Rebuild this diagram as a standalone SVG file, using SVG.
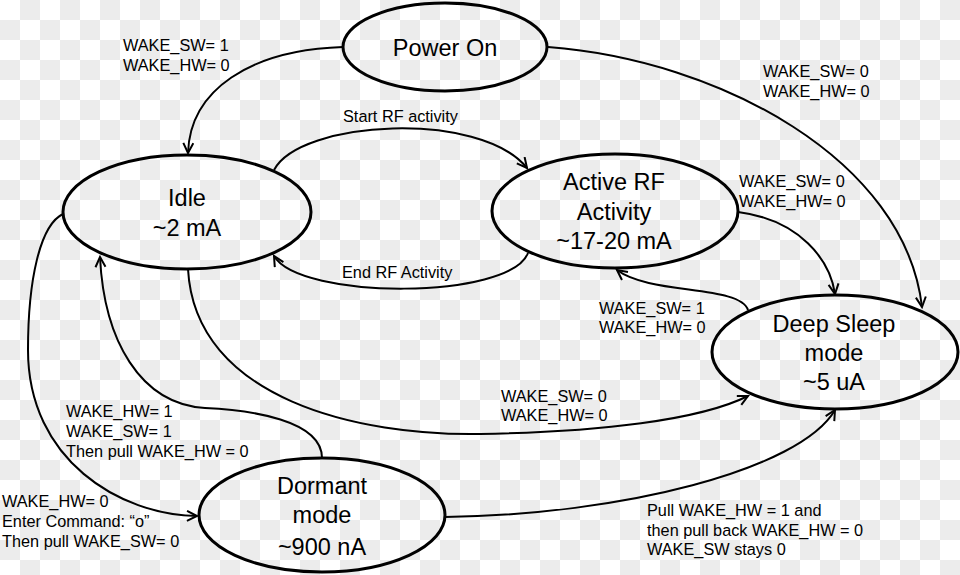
<svg xmlns="http://www.w3.org/2000/svg" width="960" height="575" viewBox="0 0 960 575">
<defs>
<pattern id="chk" width="40" height="40" patternUnits="userSpaceOnUse">
<rect width="40" height="40" fill="#ffffff"/>
<rect x="20" y="0" width="20" height="20" fill="#ececec"/>
<rect x="0" y="20" width="20" height="20" fill="#ececec"/>
</pattern>
<marker id="arr" markerWidth="14" markerHeight="14" refX="11" refY="6" orient="auto" markerUnits="userSpaceOnUse">
<path d="M1,1 L11,6 L1,11" fill="none" stroke="#000" stroke-width="2" stroke-linejoin="miter"/>
</marker>
<style>
.node ellipse{fill:none;stroke:#000;stroke-width:3}
.nt{font-family:"Liberation Sans",Arial,sans-serif;font-size:23.5px;fill:#000;text-anchor:middle}
.lb{font-family:"Liberation Sans",Arial,sans-serif;font-size:16.3px;fill:#000}
.edge{fill:none;stroke:#000;stroke-width:2;marker-end:url(#arr)}
</style>
</defs>
<rect width="960" height="575" fill="url(#chk)"/>
<g id="connectors">
<path class="edge" d="M343,47 C250,50 190,90 188,153"/>
<path class="edge" d="M548,47 C720,60 905,160 922,307"/>
<path class="edge" d="M274,170 C300,120 480,110 527,168"/>
<path class="edge" d="M528,253 C510,300 300,300 274,256"/>
<path class="edge" d="M738,212 C800,220 830,260 835,294"/>
<path class="edge" d="M748,310 C740,285 650,295 617,270"/>
<path class="edge" d="M188,269 C195,400 360,436 480,434 C600,432 700,420 748,396"/>
<path class="edge" d="M322,458 C322,420 250,410 205,408 C140,404 104,340 100,257"/>
<path class="edge" d="M63,214 C40,225 28,280 28,350 C28,460 120,515 197,516"/>
<path class="edge" d="M445,517 C620,515 800,470 835,410"/>
</g>
<g id="labels">
<text class="lb" x="123" y="51">WAKE_SW= 1</text>
<text class="lb" x="123" y="71">WAKE_HW= 0</text>
<text class="lb" x="343" y="122">Start RF activity</text>
<text class="lb" x="342" y="278">End RF Activity</text>
<text class="lb" x="763" y="77">WAKE_SW= 0</text>
<text class="lb" x="763" y="97">WAKE_HW= 0</text>
<text class="lb" x="739" y="187">WAKE_SW= 0</text>
<text class="lb" x="739" y="207">WAKE_HW= 0</text>
<text class="lb" x="599" y="314">WAKE_SW= 1</text>
<text class="lb" x="599" y="333">WAKE_HW= 0</text>
<text class="lb" x="501" y="402">WAKE_SW= 0</text>
<text class="lb" x="501" y="421">WAKE_HW= 0</text>
<text class="lb" x="66" y="417">WAKE_HW= 1</text>
<text class="lb" x="66" y="437">WAKE_SW= 1</text>
<text class="lb" x="66" y="457">Then pull WAKE_HW = 0</text>
<text class="lb" x="2" y="507">WAKE_HW= 0</text>
<text class="lb" x="2" y="527">Enter Command: “o”</text>
<text class="lb" x="2" y="547">Then pull WAKE_SW= 0</text>
<text class="lb" x="647" y="516">Pull WAKE_HW = 1 and</text>
<text class="lb" x="647" y="536">then pull back WAKE_HW = 0</text>
<text class="lb" x="647" y="555">WAKE_SW stays 0</text>
</g>
<g id="power-on" class="node">
<ellipse cx="445" cy="47" rx="102" ry="44"/>
<text class="nt" x="445" y="56">Power On</text>
</g>
<g id="idle" class="node">
<ellipse cx="187" cy="212" rx="124" ry="57"/>
<text class="nt" x="187" y="206">Idle</text>
<text class="nt" x="187" y="236">~2 mA</text>
</g>
<g id="active-rf" class="node">
<ellipse cx="615" cy="211" rx="123" ry="57"/>
<text class="nt" x="614" y="190">Active RF</text>
<text class="nt" x="614" y="220">Activity</text>
<text class="nt" x="614" y="249">~17-20 mA</text>
</g>
<g id="deep-sleep" class="node">
<ellipse cx="835" cy="352" rx="123" ry="57"/>
<text class="nt" x="834" y="332">Deep Sleep</text>
<text class="nt" x="834" y="361">mode</text>
<text class="nt" x="834" y="390">~5 uA</text>
</g>
<g id="dormant" class="node">
<ellipse cx="322" cy="515" rx="123" ry="57"/>
<text class="nt" x="322" y="494">Dormant</text>
<text class="nt" x="322" y="523">mode</text>
<text class="nt" x="322" y="555">~900 nA</text>
</g>
</svg>
